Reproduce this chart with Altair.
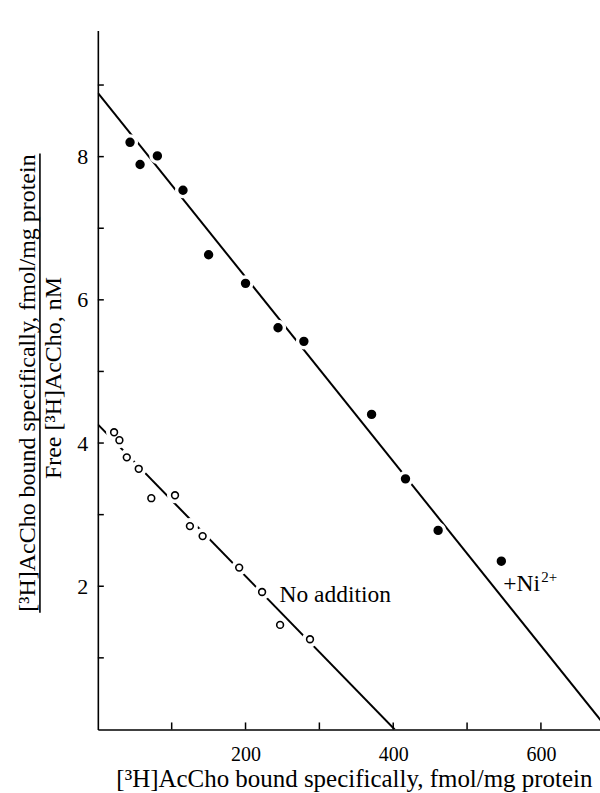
import altair as alt
import pandas as pd

# ---- data ----
ni_x = [43.6, 57.2, 80.6, 115.3, 150.0, 200.0, 244.0, 279.0, 370.7, 416.6, 460.8, 546.4]
ni_y = [8.20, 7.89, 8.01, 7.53, 6.63, 6.23, 5.61, 5.42, 4.40, 3.50, 2.78, 2.35]
ctrl_x = [22.0, 29.2, 39.2, 55.4, 72.4, 104.5, 124.7, 141.9, 191.4, 222.4, 246.8, 287.3]
ctrl_y = [4.15, 4.04, 3.80, 3.64, 3.23, 3.27, 2.84, 2.70, 2.26, 1.92, 1.46, 1.26]
ni_fit_x = [0, 691]
ni_fit_y = [8.89, 0]
ctrl_fit_x = [0, 402]
ctrl_fit_y = [4.26, 0]
x_ticks = [100, 200, 300, 400, 500, 600]
x_labels = [200, 400, 600]
y_ticks = [1, 2, 3, 4, 5, 6, 7, 8, 9]
y_labels = [2, 4, 6, 8]
x_title = "[³H]AcCho bound specifically, fmol/mg protein"
y_title_num = "[³H]AcCho bound specifically, fmol/mg protein"
y_title_den = "Free [³H]AcCho, nM"
lab_ctrl = ["No addition"]
lab_ctrl_pos = [246, 1.785]
lab_ni = ["+Ni"]
lab_ni_sup = ["2+"]
lab_ni_pos = [549, 1.94]

FONT = "Liberation Serif"
W, H = 503, 700
XD = [0, 680]
YD = [0, 9.76]

xs = alt.Scale(domain=XD, nice=False, zero=False)
ys = alt.Scale(domain=YD, nice=False, zero=False)

pts_ni = pd.DataFrame({"x": ni_x, "y": ni_y})
pts_ctrl = pd.DataFrame({"x": ctrl_x, "y": ctrl_y})
fit_ni = pd.DataFrame({"x": ni_fit_x, "y": ni_fit_y})
fit_ctrl = pd.DataFrame({"x": ctrl_fit_x, "y": ctrl_fit_y})
all_pts = pd.concat([pts_ni, pts_ctrl])

label_expr_x = "indexof([" + ",".join(str(v) for v in x_labels) + "], datum.value) >= 0 ? datum.label : ''"
label_expr_y = "indexof([" + ",".join(str(v) for v in y_labels) + "], datum.value) >= 0 ? datum.label : ''"

xenc = alt.X("x:Q", scale=xs, axis=alt.Axis(
    values=x_ticks, labelExpr=label_expr_x, format="d", ticks=False, grid=False,
    domainColor="black", domainWidth=1.6, labelFont=FONT, labelFontSize=20,
    labelColor="black", labelPadding=15, title=None))
yenc = alt.Y("y:Q", scale=ys, axis=alt.Axis(
    values=y_ticks, labelExpr=label_expr_y, format="d", ticks=False, grid=False,
    domainColor="black", domainWidth=1.6, labelFont=FONT, labelFontSize=22,
    labelColor="black", labelPadding=10, title=None))

fit_layers = []
for df in (fit_ni, fit_ctrl):
    fit_layers.append(alt.Chart(df).mark_line(clip=True, color="black", strokeWidth=2).encode(
        x=alt.X("x:Q", scale=xs), y=alt.Y("y:Q", scale=ys)))

halo = alt.Chart(all_pts).mark_point(filled=True, fill="white", stroke="white", size=200, opacity=1).encode(
    x=alt.X("x:Q", scale=xs), y=alt.Y("y:Q", scale=ys))

filled = alt.Chart(pts_ni).mark_point(filled=True, fill="black", stroke="black", size=55, opacity=1, shape="circle").encode(
    x=xenc, y=yenc)
hollow = alt.Chart(pts_ctrl).mark_point(filled=True, fill="white", stroke="black", strokeWidth=1.6, size=46, opacity=1, shape="circle").encode(
    x=alt.X("x:Q", scale=xs), y=alt.Y("y:Q", scale=ys))

# inward ticks
xt = alt.Chart(pd.DataFrame({"x": x_ticks})).mark_rule(color="black", strokeWidth=1.5).encode(
    x=alt.X("x:Q", scale=xs), y=alt.value(H), y2=alt.value(H - 7))
yt = alt.Chart(pd.DataFrame({"y": y_ticks})).mark_rule(color="black", strokeWidth=1.5).encode(
    y=alt.Y("y:Q", scale=ys), x=alt.value(0), x2=alt.value(6))

# curve labels
t_ctrl = alt.Chart(pd.DataFrame({"x": [lab_ctrl_pos[0]], "y": [lab_ctrl_pos[1]], "t": lab_ctrl})).mark_text(
    font=FONT, fontSize=23.5, align="left", baseline="alphabetic", color="black").encode(
    x=alt.X("x:Q", scale=xs), y=alt.Y("y:Q", scale=ys), text="t:N")
t_ni = alt.Chart(pd.DataFrame({"x": [lab_ni_pos[0]], "y": [lab_ni_pos[1]], "t": lab_ni})).mark_text(
    font=FONT, fontSize=23.5, align="left", baseline="alphabetic", color="black").encode(
    x=alt.X("x:Q", scale=xs), y=alt.Y("y:Q", scale=ys), text="t:N")
t_ni_sup = alt.Chart(pd.DataFrame({"x": [lab_ni_pos[0]], "y": [lab_ni_pos[1]], "t": lab_ni_sup})).mark_text(
    font=FONT, fontSize=15, align="left", baseline="alphabetic", color="black", dx=38, dy=-9).encode(
    x=alt.X("x:Q", scale=xs), y=alt.Y("y:Q", scale=ys), text="t:N")

# x title as text
xt_title = alt.Chart(pd.DataFrame({"t": [x_title]})).mark_text(
    font=FONT, fontSize=25, align="center", baseline="alphabetic", color="black").encode(
    x=alt.value(257), y=alt.value(758), text="t:N")

# y title as a fraction
yt_num = alt.Chart(pd.DataFrame({"t": [y_title_num]})).mark_text(
    font=FONT, fontSize=24, angle=270, align="center", baseline="alphabetic", color="black").encode(
    x=alt.value(-63), y=alt.value(353), text="t:N")
yt_den = alt.Chart(pd.DataFrame({"t": [y_title_den]})).mark_text(
    font=FONT, fontSize=24, angle=270, align="center", baseline="alphabetic", color="black").encode(
    x=alt.value(-37), y=alt.value(348), text="t:N")
frac = alt.Chart(pd.DataFrame({"t": [0]})).mark_rule(color="black", strokeWidth=1.6).encode(
    x=alt.value(-58), y=alt.value(123), y2=alt.value(583))

chart = alt.layer(
    filled, *fit_layers, halo, hollow, xt, yt, t_ctrl, t_ni, t_ni_sup, xt_title, yt_num, yt_den, frac,
    filled
).properties(
    width=W, height=H,
    autosize=alt.AutoSizeParams(type="none"),
    padding={"left": 98, "top": 30, "right": 0, "bottom": 63},
    background="white",
).configure_view(stroke=None)

chart.save("out.html", embed_options={"renderer": "svg", "actions": False})
